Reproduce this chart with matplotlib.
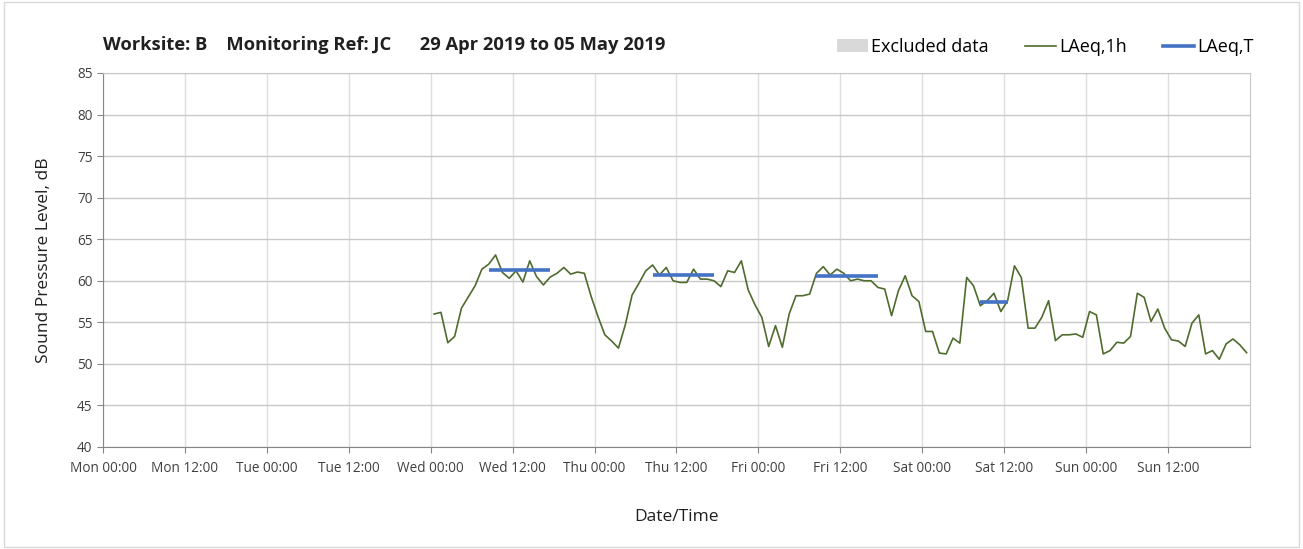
import matplotlib
matplotlib.use("Agg")
import matplotlib.pyplot as plt
from matplotlib.patches import Patch, Rectangle
from matplotlib.lines import Line2D
import numpy as np

plt.rcParams['font.family'] = ['Open Sans', 'DejaVu Sans']

# hourly LAeq,1h values, first sample at Wed 00:30 (hours since Mon 00:00)
first_hour = 48.5
laeq_1h = [
    56.0, 56.2, 52.55, 53.3, 56.7, 58.05, 59.4, 61.4, 62.0, 63.1,
    61.0, 60.3, 61.2, 59.85, 62.4, 60.5, 59.5, 60.45, 60.9, 61.6,
    60.8, 61.05, 60.9, 58.1, 55.7, 53.5, 52.75, 51.9, 54.7, 58.3,
    59.7, 61.2, 61.9, 60.7, 61.6, 60.0, 59.8, 59.8, 61.4, 60.2,
    60.2, 60.0, 59.3, 61.2, 61.0, 62.4, 58.9, 57.1, 55.6, 52.1,
    54.6, 52.0, 56.0, 58.2, 58.2, 58.4, 60.9, 61.7, 60.7, 61.4,
    60.9, 60.0, 60.2, 60.0, 60.0, 59.2, 59.0, 55.8, 58.8, 60.6,
    58.2, 57.5, 53.9, 53.9, 51.3, 51.2, 53.1, 52.5, 60.4, 59.4,
    57.0, 57.6, 58.5, 56.3, 57.6, 61.8, 60.4, 54.3, 54.3, 55.6,
    57.6, 52.8, 53.5, 53.5, 53.6, 53.2, 56.3, 55.9, 51.2, 51.6,
    52.6, 52.5, 53.3, 58.5, 58.0, 55.1, 56.6, 54.3, 52.9, 52.75,
    52.1, 54.9, 55.9, 51.2, 51.6, 50.55, 52.4, 53.0, 52.3, 51.35,
]
hours = first_hour + np.arange(len(laeq_1h))

# LAeq,T periods (start hour, end hour, level)
period_start = [56.5, 80.5, 104.5, 128.5]
period_end = [65.5, 89.5, 113.5, 132.5]
laeq_t = [61.25, 60.7, 60.6, 57.4]

tick_hours = list(range(0, 168, 12))
tick_labels = ["Mon 00:00", "Mon 12:00", "Tue 00:00", "Tue 12:00",
               "Wed 00:00", "Wed 12:00", "Thu 00:00", "Thu 12:00",
               "Fri 00:00", "Fri 12:00", "Sat 00:00", "Sat 12:00",
               "Sun 00:00", "Sun 12:00"]

green = "#4f6b2e"
blue = "#4472c4"

fig = plt.figure(figsize=(13.03, 5.49), dpi=100)
fig.patches.append(Rectangle((0.003, 0.003), 0.994, 0.994, transform=fig.transFigure,
                             fill=False, edgecolor="#d9d9d9", linewidth=1.0))
ax = fig.add_axes([103 / 1303, 102 / 549, 1147 / 1303, 374 / 549])

ax.plot(hours, laeq_1h, color=green, linewidth=1.2)
for s, e, v in zip(period_start, period_end, laeq_t):
    ax.plot([s, e], [v, v], color=blue, linewidth=2.6, solid_capstyle="butt")

ax.set_xlim(0, 168)
ax.set_ylim(40, 85)
ax.set_yticks(range(40, 90, 5))
ax.set_xticks(tick_hours)
ax.set_xticklabels(tick_labels)
ax.tick_params(axis="both", labelsize=9.8, colors="#404040", length=4, width=0.8)
ax.tick_params(axis="both", color="#868686")
ax.tick_params(axis="x", pad=6)

ax.grid(axis="y", color="#c8c8c8", linewidth=1.0)
ax.grid(axis="x", color="#dedede", linewidth=1.0)
ax.set_axisbelow(True)
for side in ["left", "bottom"]:
    ax.spines[side].set_color("#868686")
for side in ["top", "right"]:
    ax.spines[side].set_color("#c8c8c8")

ax.set_ylabel("Sound Pressure Level, dB", fontsize=12.5, color="#202020", labelpad=18)
ax.set_xlabel("Date/Time", fontsize=12.5, color="#202020", labelpad=24)

fig.text(103 / 1303, 1 - 45 / 549, "Worksite: B    Monitoring Ref: JC      29 Apr 2019 to 05 May 2019",
         fontsize=13.2, fontweight="bold", va="center", ha="left", color="#202020")

handles = [Patch(facecolor="#d9d9d9", edgecolor="none"),
           Line2D([], [], color=green, linewidth=1.2),
           Line2D([], [], color=blue, linewidth=2.6)]
fig.legend(handles, ["Excluded data", "LAeq,1h", "LAeq,T"], loc="center right",
           bbox_to_anchor=(1270 / 1303, 1 - 47 / 549), ncol=3, frameon=False,
           fontsize=13, handlelength=1.7, handletextpad=0.2, columnspacing=2.0)

fig.savefig("out.png", dpi=100)
